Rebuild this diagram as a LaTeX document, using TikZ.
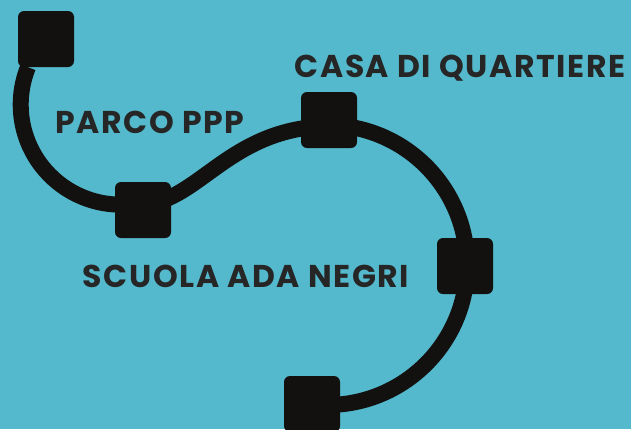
\documentclass[tikz,border=0pt]{standalone}
\usepackage{fontspec}
\setmainfont{Poppins}[LetterSpace=5]
\usepackage{tikz}

\definecolor{bgteal}{RGB}{84,185,204}
\definecolor{nearblack}{RGB}{18,17,16}
\definecolor{labelgray}{RGB}{38,38,38}

\begin{document}
\begin{tikzpicture}[x=1pt,y=-1pt,
    stopbox/.style={rectangle,rounded corners=6pt,fill=nearblack,minimum size=56pt,inner sep=0pt},
    route/.style={draw=nearblack,line width=16pt},
    place/.style={text=labelgray,font=\fontsize{31.5}{36}\selectfont\bfseries,inner sep=0pt,anchor=base}]

      \fill[bgteal] (0,0) rectangle (631,429);
      \useasboundingbox (0,0) rectangle (631,429);

      \node[stopbox] (a) at (46,39){};
      \node[stopbox] (b) at (143,210){};
      \node[stopbox] (c) at (329,120){};
      \node[stopbox] (d) at (465,266){};
      \node[stopbox] (e) at (312,404){};

      \node[place] (p) at (150,133){PARCO PPP};
      \node[place] (q) at (460,77){CASA DI QUARTIERE};
      \node[place] (s) at (246,287){SCUOLA ADA NEGRI};

      \draw[route] ([xshift=-18pt]a.south) arc[start angle=202,end angle=90,radius=100] -- (b.center);
      \draw[route] ([yshift=5pt]b.center) .. controls (200,200) and (230,128) .. ([yshift=-6pt]c.center);
      \draw[route] (c.center) -- ++(-2,5) arc[start angle=-90,end angle=0,radius=140] -- (d.center);
      \draw[route] (d.center) -- ++(2,-1) arc[start angle=0,end angle=90,radius=140] -- (e.center);
    \end{tikzpicture}
\end{document}
